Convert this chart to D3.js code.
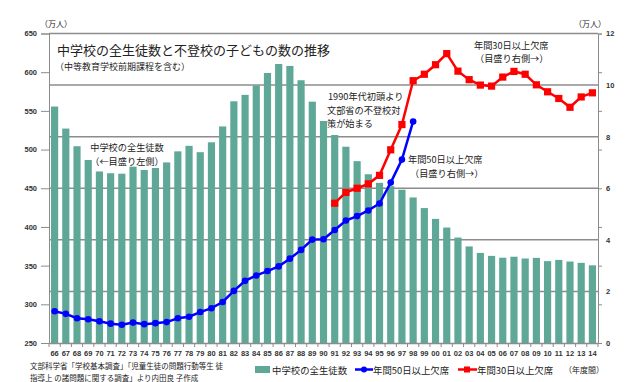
<!DOCTYPE html>
<html><head><meta charset="utf-8">
<script src="https://cdn.jsdelivr.net/npm/d3@7"></script>
<style>
body{margin:0;background:#fff;}
text{font-family:"Noto Sans CJK JP","Noto Sans",sans-serif;}
</style></head>
<body><svg id="c" width="641" height="382"></svg>
<script>
const years = ["66","67","68","69","70","71","72","73","74","75","76","77","78","79","80","81","82","83","84","85","86","87","88","89","90","91","92","93","94","95","96","97","98","99","00","01","02","03","04","05","06","07","08","09","10","11","12","13","14"];
const students = [555.6,527.1,504.3,486.5,471.7,469.4,468.8,477.9,473.6,476.2,483.4,497.7,504.8,496.6,509.4,529.9,562.4,570.7,582.8,599.0,610.6,608.1,589.6,561.9,536.9,518.8,503.7,485.0,468.1,457.0,452.7,448.1,438.1,424.4,410.4,399.2,386.3,374.8,366.4,362.6,360.2,361.5,359.2,360.0,355.8,357.4,355.3,353.6,350.4];
const absent50Years = ["66","67","68","69","70","71","72","73","74","75","76","77","78","79","80","81","82","83","84","85","86","87","88","89","90","91","92","93","94","95","96","97","98"];
const absent50 = [1.23,1.13,0.96,0.92,0.84,0.75,0.71,0.79,0.73,0.77,0.81,0.96,1.02,1.20,1.35,1.59,2.02,2.41,2.62,2.79,2.97,3.27,3.61,4.01,4.02,4.38,4.75,4.92,5.14,5.41,6.22,7.11,8.59];
const absent30Years = ["91","92","93","94","95","96","97","98","99","00","01","02","03","04","05","06","07","08","09","10","11","12","13","14"];
const absent30 = [5.42,5.84,6.00,6.17,6.50,7.49,8.47,10.17,10.42,10.79,11.22,10.54,10.21,10.00,9.96,10.31,10.53,10.42,10.01,9.74,9.48,9.14,9.54,9.70];
const leftTicks = [250,300,350,400,450,500,550,600,650];
const rightTicks = [0,2,4,6,8,10,12];

const svg = d3.select("#c");
const L = 49, R = 598, T = 33.5, B = 343;
const x = d3.scaleBand().domain(years).range([L, R]).paddingInner(0.36).paddingOuter(0.18);
const yL = d3.scaleLinear().domain([250, 650]).range([B, T]);
const yR = d3.scaleLinear().domain([0, 12]).range([B, T]);
const gridC = "#8c8c8c";
const numFont = "'Liberation Sans',Arial,sans-serif";

// gridlines (right axis)
svg.append("g").selectAll("line").data(rightTicks.filter(d => d > 0)).join("line")
  .attr("x1", L).attr("x2", R).attr("y1", d => yR(d)).attr("y2", d => yR(d))
  .attr("stroke", gridC).attr("stroke-width", 1.5);

// bars
svg.append("g").selectAll("rect").data(students).join("rect")
  .attr("x", (d, i) => x(years[i])).attr("width", x.bandwidth())
  .attr("y", d => yL(d)).attr("height", d => B - yL(d))
  .attr("fill", "#5fa897");

// left axis
const gl = svg.append("g").attr("transform", `translate(${L},0)`)
  .call(d3.axisLeft(yL).tickValues(leftTicks).tickSize(8).tickPadding(4));
gl.selectAll("text").attr("font-size", 7.5).attr("font-weight", "bold").attr("fill", "#333").style("font-family", numFont);
gl.selectAll("line,path").attr("stroke", gridC);

// right axis: ticks at left-scale positions, labels from right scale
const gr = svg.append("g").attr("transform", `translate(${R},0)`)
  .call(d3.axisRight(yL).tickValues(leftTicks).tickSize(4).tickFormat(""));
gr.selectAll("line,path").attr("stroke", gridC);
const gr2 = svg.append("g").attr("transform", `translate(${R},0)`)
  .call(d3.axisRight(yR).tickValues(rightTicks).tickSize(0).tickPadding(8));
gr2.select("path").remove();
gr2.selectAll("text").attr("font-size", 7.5).attr("font-weight", "bold").attr("fill", "#333").style("font-family", numFont);

// bottom axis
const gb = svg.append("g").attr("transform", `translate(0,${B})`)
  .call(d3.axisBottom(x).tickSize(0).tickPadding(8));
gb.selectAll("text").attr("font-size", 7.5).attr("font-weight", "bold").attr("fill", "#333").style("font-family", numFont);
gb.select("path").attr("stroke", gridC).attr("stroke-width", 1.5);
const step = x.step();
svg.append("g").selectAll("line").data(d3.range(years.length + 1)).join("line")
  .attr("x1", i => L + i * step).attr("x2", i => L + i * step)
  .attr("y1", B).attr("y2", B + 4).attr("stroke", gridC);

// lines
const cx = yr => x(yr) + x.bandwidth() / 2;
const d50 = absent50.map((v, i) => [absent50Years[i], v]);
const d30 = absent30.map((v, i) => [absent30Years[i], v]);
const line = d3.line().x(d => cx(d[0])).y(d => yR(d[1]));
svg.append("path").datum(d50).attr("d", line).attr("fill", "none").attr("stroke", "#0000ff").attr("stroke-width", 2.5);
svg.append("g").selectAll("circle").data(d50).join("circle")
  .attr("cx", d => cx(d[0])).attr("cy", d => yR(d[1])).attr("r", 3.3).attr("fill", "#0000ff");
svg.append("path").datum(d30).attr("d", line).attr("fill", "none").attr("stroke", "#ff0000").attr("stroke-width", 2.5);
svg.append("g").selectAll("rect").data(d30).join("rect")
  .attr("x", d => cx(d[0]) - 3.6).attr("y", d => yR(d[1]) - 3.6).attr("width", 7.2).attr("height", 7.2).attr("fill", "#ff0000");

// texts
function txt(s, xx, yy, size, anchor) {
  svg.append("text").attr("x", xx).attr("y", yy).attr("font-size", size)
    .attr("text-anchor", anchor || "start").attr("dominant-baseline", "central").attr("fill", "#222").text(s);
}
txt("（万人）", 40, 23, 8);
txt("（万人）", 574, 23, 8);
txt("中学校の全生徒数と不登校の子どもの数の推移", 57, 49.5, 13);
txt("（中等教育学校前期課程を含む）", 55, 66, 9);
txt("中学校の全生徒数", 127, 147, 9.2, "middle");
txt("（←目盛り左側）", 127, 160.5, 9.2, "middle");
txt("1990年代初頭より", 328, 96, 9.2);
txt("文部省の不登校対", 327, 109.5, 9.2);
txt("策が始まる", 327, 123, 9.2);
txt("年間50日以上欠席", 408, 159, 9.2);
txt("（目盛り右側→）", 410, 172.5, 9.2);
txt("年間30日以上欠席", 474, 44.5, 9.2);
txt("（目盛り右側→）", 475, 58, 9.2);
txt("文部科学省「学校基本調査」「児童生徒の問題行動等生 徒", 30, 365.5, 7.5);
txt("指導上 の諸問題に関する調査」より内田良 子作成", 30, 377, 7.5);

// legend
svg.append("rect").attr("x", 255).attr("y", 366).attr("width", 15).attr("height", 7).attr("fill", "#5fa897");
txt("中学校の全生徒数", 272, 369.5, 9.4);
svg.append("line").attr("x1", 355).attr("x2", 373).attr("y1", 369.5).attr("y2", 369.5).attr("stroke", "#0000ff").attr("stroke-width", 2.5);
svg.append("circle").attr("cx", 364).attr("cy", 369.5).attr("r", 3).attr("fill", "#0000ff");
txt("年間50日以上欠席", 373, 369.5, 9.4);
svg.append("line").attr("x1", 458).attr("x2", 477).attr("y1", 369.5).attr("y2", 369.5).attr("stroke", "#ff0000").attr("stroke-width", 2.5);
svg.append("rect").attr("x", 464).attr("y", 366.5).attr("width", 6).attr("height", 6).attr("fill", "#ff0000");
txt("年間30日以上欠席", 477, 369.5, 9.4);
txt("（年度間）", 564, 369, 8);
</script></body></html>
